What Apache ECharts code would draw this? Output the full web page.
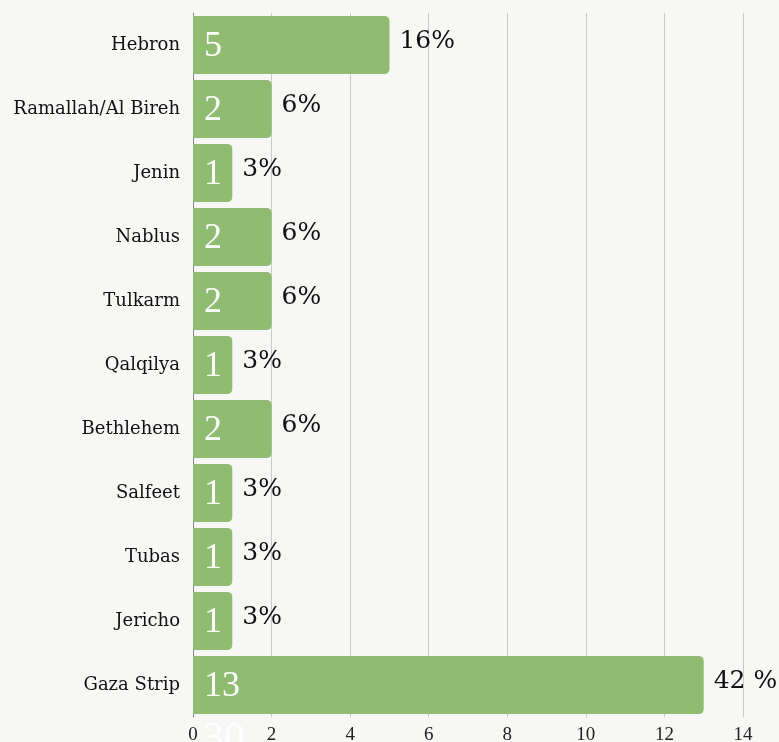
<!DOCTYPE html>
<html>
<head>
<meta charset="utf-8">
<script src="https://cdn.jsdelivr.net/npm/echarts@6/dist/echarts.min.js"></script>
<style>
html,body{margin:0;padding:0;background:#f7f7f5;}
#c{width:779px;height:742px;}
</style>
</head>
<body>
<div id="c"></div>
<script>
const categories = ['Hebron','Ramallah/Al Bireh','Jenin','Nablus','Tulkarm','Qalqilya','Bethlehem','Salfeet','Tubas','Jericho','Gaza Strip'];
const counts = [5,2,1,2,2,1,2,1,1,1,13];
const pctLabels = ['16%','6%','3%','6%','6%','3%','6%','3%','3%','3%','42 %'];
const xTicks = [0,2,4,6,8,10,12,14];
const totalLabel = '30';

const chart = echarts.init(document.getElementById('c'));
chart.setOption({
  backgroundColor: '#f7f7f5',
  animation: false,
  grid: {left: 193, right: 36, top: 13, bottom: 25, containLabel: false, outerBoundsMode: 'none'},
  xAxis: {
    type: 'value', min: xTicks[0], max: xTicks[xTicks.length-1], interval: 2,
    axisLine: {show: false}, axisTick: {show: false},
    splitLine: {show: true, lineStyle: {color: '#c9c9c9', width: 1}},
    axisLabel: {color: '#222', fontFamily: 'Liberation Serif', fontSize: 19, margin: 9}
  },
  yAxis: {
    type: 'category', data: categories, inverse: true,
    axisLine: {show: true, lineStyle: {color: '#888', width: 1}},
    axisTick: {show: false},
    axisLabel: {color: '#111', fontFamily: 'DejaVu Serif', fontSize: 18, margin: 13}
  },
  series: [
    {
      type: 'bar', data: counts, barCategoryGap: '9%',
      itemStyle: {color: '#8fbc70', borderRadius: [0,5,5,0]},
      label: {show: true, position: 'insideLeft', distance: 11, offset: [0,2], color: '#fff',
        fontFamily: 'Liberation Serif', fontSize: 36}
    },
    {
      type: 'bar', data: counts, barGap: '-100%', barCategoryGap: '9%', silent: true,
      itemStyle: {color: 'rgba(0,0,0,0)'},
      label: {show: true, position: 'right', distance: 10, offset: [0,-4], color: '#111',
        fontFamily: 'DejaVu Serif', fontSize: 25,
        formatter: p => pctLabels[p.dataIndex]}
    }
  ],
  graphic: [{
    type: 'text', left: 203, top: 719,
    style: {text: totalLabel, fill: '#ffffff', font: '42px "Liberation Serif"'}
  }]
});
</script>
</body>
</html>
